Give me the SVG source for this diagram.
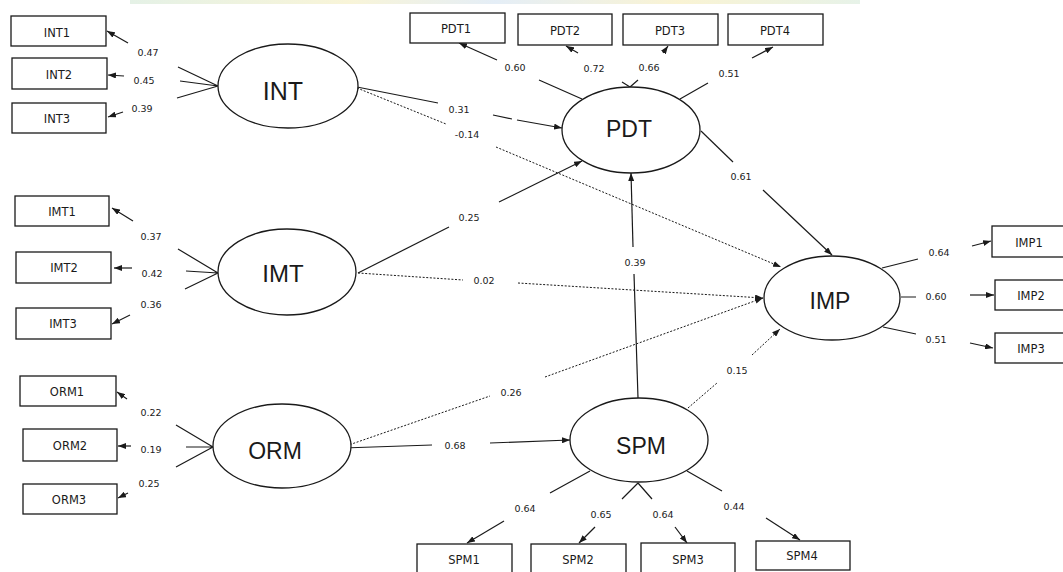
<svg xmlns="http://www.w3.org/2000/svg" width="1063" height="572" viewBox="0 0 1063 572">
  <defs>
    <marker id="arrow" viewBox="0 0 8 6" refX="8" refY="3" markerWidth="8" markerHeight="6" markerUnits="userSpaceOnUse" orient="auto">
      <path d="M0,0 L8,3 L0,6 z" fill="#1a1a1a"/>
    </marker>
    <linearGradient id="band" x1="0" y1="0" x2="1" y2="0">
      <stop offset="0" stop-color="#cfe6d2"/>
      <stop offset="0.3" stop-color="#f3ecb8"/>
      <stop offset="0.5" stop-color="#cfe0f0"/>
      <stop offset="0.75" stop-color="#f5eab0"/>
      <stop offset="1" stop-color="#d3e8d6"/>
    </linearGradient>
  </defs>
  <style>
    .box { fill: #fff; stroke: #1a1a1a; stroke-width: 1.3; }
    .lv { fill: #fff; stroke: #1a1a1a; stroke-width: 1.3; }
    .ln { fill: none; stroke: #1a1a1a; stroke-width: 1.2; }
    .dot { fill: none; stroke: #1a1a1a; stroke-width: 1; stroke-dasharray: 2 1.6; }
    .arr { marker-end: url(#arrow); }
    .bt { font-family: "DejaVu Sans", Verdana, sans-serif; font-size: 11.5px; fill: #1a1a1a; text-anchor: middle; }
    .big { font-family: "Liberation Sans", Arial, sans-serif; font-size: 23px; fill: #1a1a1a; text-anchor: middle; }
    .num { font-family: "DejaVu Sans", Verdana, sans-serif; font-size: 9.5px; fill: #1a1a1a; text-anchor: middle; }
  </style>

  <rect width="1063" height="572" fill="#fff"/>
  <rect x="130" y="0" width="730" height="4" fill="url(#band)" opacity="0.55"/>

  <!-- connectors -->
  <g id="connectors">
    <!-- INT indicators -->
    <path class="ln" d="M178,67 L218,86 M180,81 L218,86 M177,98 L218,86"/>
    <line class="ln arr" x1="128" y1="43" x2="107" y2="31"/>
    <line class="ln arr" x1="124" y1="76" x2="108" y2="75"/>
    <line class="ln arr" x1="123" y1="112" x2="108" y2="117"/>
    <!-- IMT indicators -->
    <path class="ln" d="M178,249 L218,273 M186,271 L218,273 M185,289 L218,273"/>
    <line class="ln arr" x1="133" y1="221" x2="112" y2="208"/>
    <line class="ln arr" x1="132" y1="268" x2="114" y2="268"/>
    <line class="ln arr" x1="130" y1="315" x2="112" y2="324"/>
    <!-- ORM indicators -->
    <path class="ln" d="M176,425 L213,447 M186,447 L213,447 M176,467 L213,447"/>
    <line class="ln arr" x1="127" y1="399" x2="117" y2="392"/>
    <line class="ln arr" x1="131" y1="446" x2="118" y2="446"/>
    <line class="ln arr" x1="128" y1="493" x2="118" y2="498"/>
    <!-- PDT indicators -->
    <path class="ln" d="M582,99 L539,80 M630,87 L622,82 M630,87 L638,80 M680,99 L708,83"/>
    <line class="ln arr" x1="497" y1="60" x2="459" y2="43"/>
    <line class="ln arr" x1="578" y1="53" x2="566" y2="46"/>
    <line class="ln arr" x1="663" y1="53" x2="668" y2="46"/>
    <line class="ln arr" x1="752" y1="58" x2="773" y2="47"/>
    <!-- IMP indicators -->
    <path class="ln" d="M882,268 L918,259 M901,297 L916,297 M883,327 L916,334"/>
    <line class="ln arr" x1="972" y1="246" x2="991" y2="241"/>
    <line class="ln arr" x1="970" y1="295" x2="994" y2="295"/>
    <line class="ln arr" x1="970" y1="343" x2="993" y2="348"/>
    <!-- SPM indicators -->
    <path class="ln" d="M590,471 L550,493 M638,483 L622,499 M638,483 L652,499 M687,471 L722,491"/>
    <line class="ln arr" x1="504" y1="521" x2="467" y2="543"/>
    <line class="ln arr" x1="595" y1="527" x2="579" y2="543"/>
    <line class="ln arr" x1="675" y1="527" x2="687" y2="543"/>
    <line class="ln arr" x1="766" y1="518" x2="800" y2="540"/>

    <!-- structural paths -->
    <path class="ln" d="M357,87 L438,103 M493,115 L512,119"/>
    <line class="ln arr" x1="517" y1="120" x2="562" y2="128"/>
    <path class="dot" d="M357,88 L446,124"/>
    <line class="dot arr" x1="496" y1="147" x2="781" y2="267"/>
    <path class="ln" d="M701,131 L733,162"/>
    <line class="ln arr" x1="763" y1="190" x2="832" y2="255"/>
    <path class="ln" d="M358,273 L449,227"/>
    <line class="ln arr" x1="499" y1="202" x2="582" y2="161"/>
    <path class="dot" d="M358,273 L463,280"/>
    <line class="dot arr" x1="518" y1="283" x2="763" y2="298"/>
    <path class="dot" d="M343,447 L490,396"/>
    <line class="dot arr" x1="545" y1="377" x2="763" y2="298"/>
    <path class="ln" d="M343,448 L432,445"/>
    <line class="ln arr" x1="490" y1="443" x2="570" y2="440"/>
    <path class="ln" d="M638,398 L634,274"/>
    <line class="ln arr" x1="633" y1="247" x2="631" y2="173"/>
    <path class="dot" d="M688,408 L717,383"/>
    <line class="dot arr" x1="752" y1="355" x2="780" y2="329"/>

    <!-- coefficients -->
    <text class="num" x="148" y="55.5">0.47</text>
    <text class="num" x="144" y="83.5">0.45</text>
    <text class="num" x="142" y="111.5">0.39</text>
    <text class="num" x="151" y="239.5">0.37</text>
    <text class="num" x="152" y="276.5">0.42</text>
    <text class="num" x="151" y="307.5">0.36</text>
    <text class="num" x="151" y="415.5">0.22</text>
    <text class="num" x="151" y="452.5">0.19</text>
    <text class="num" x="149" y="486.5">0.25</text>
    <text class="num" x="515" y="70.5">0.60</text>
    <text class="num" x="594" y="71.5">0.72</text>
    <text class="num" x="649" y="70.5">0.66</text>
    <text class="num" x="729" y="76.5">0.51</text>
    <text class="num" x="459" y="112.5">0.31</text>
    <text class="num" x="467" y="137.5">-0.14</text>
    <text class="num" x="469" y="220.5">0.25</text>
    <text class="num" x="484" y="283.5">0.02</text>
    <text class="num" x="511" y="395.5">0.26</text>
    <text class="num" x="455" y="448.5">0.68</text>
    <text class="num" x="635" y="265.5">0.39</text>
    <text class="num" x="741" y="179.5">0.61</text>
    <text class="num" x="737" y="373.5">0.15</text>
    <text class="num" x="939" y="255.5">0.64</text>
    <text class="num" x="936" y="299.5">0.60</text>
    <text class="num" x="936" y="342.5">0.51</text>
    <text class="num" x="525" y="511.5">0.64</text>
    <text class="num" x="601" y="517.5">0.65</text>
    <text class="num" x="663" y="517.5">0.64</text>
    <text class="num" x="734" y="509.5">0.44</text>
  </g>

  <!-- latent variables -->
  <g id="INT"><ellipse class="lv" cx="288" cy="86" rx="70" ry="42"/><text class="big" x="283" y="99.5" style="font-size:25px">INT</text></g>
  <g id="IMT"><ellipse class="lv" cx="287" cy="272" rx="69" ry="43"/><text class="big" x="283" y="281.5" style="font-size:24px">IMT</text></g>
  <g id="ORM"><ellipse class="lv" cx="282" cy="446" rx="69" ry="42"/><text class="big" x="275" y="459">ORM</text></g>
  <g id="PDT"><ellipse class="lv" cx="631" cy="130" rx="69" ry="43"/><text class="big" x="629" y="137">PDT</text></g>
  <g id="IMP"><ellipse class="lv" cx="832" cy="298" rx="68" ry="42"/><text class="big" x="830" y="309">IMP</text></g>
  <g id="SPM"><ellipse class="lv" cx="639" cy="440" rx="69" ry="42"/><text class="big" x="641" y="454">SPM</text></g>

  <!-- indicators -->
  <g id="INT1"><rect class="box" x="11" y="16" width="95" height="30"/><text class="bt" x="57" y="37">INT1</text></g>
  <g id="INT2"><rect class="box" x="12" y="58" width="95" height="31"/><text class="bt" x="59" y="79">INT2</text></g>
  <g id="INT3"><rect class="box" x="12" y="103" width="94" height="30"/><text class="bt" x="57" y="123">INT3</text></g>
  <g id="IMT1"><rect class="box" x="15" y="196" width="94" height="30"/><text class="bt" x="62" y="216">IMT1</text></g>
  <g id="IMT2"><rect class="box" x="16" y="252" width="95" height="31"/><text class="bt" x="64" y="272">IMT2</text></g>
  <g id="IMT3"><rect class="box" x="16" y="308" width="95" height="31"/><text class="bt" x="63" y="328">IMT3</text></g>
  <g id="ORM1"><rect class="box" x="20" y="376" width="96" height="30"/><text class="bt" x="67" y="396">ORM1</text></g>
  <g id="ORM2"><rect class="box" x="23" y="429" width="94" height="32"/><text class="bt" x="70" y="450">ORM2</text></g>
  <g id="ORM3"><rect class="box" x="23" y="484" width="94" height="30"/><text class="bt" x="69" y="504">ORM3</text></g>
  <g id="PDT1"><rect class="box" x="410" y="13" width="95" height="30"/><text class="bt" x="456" y="33">PDT1</text></g>
  <g id="PDT2"><rect class="box" x="518" y="14" width="94" height="31"/><text class="bt" x="565" y="35">PDT2</text></g>
  <g id="PDT3"><rect class="box" x="623" y="14" width="95" height="31"/><text class="bt" x="670" y="35">PDT3</text></g>
  <g id="PDT4"><rect class="box" x="728" y="14" width="95" height="31"/><text class="bt" x="775" y="35">PDT4</text></g>
  <g id="IMP1"><rect class="box" x="992" y="226" width="80" height="31"/><text class="bt" x="1029" y="247">IMP1</text></g>
  <g id="IMP2"><rect class="box" x="995" y="280" width="80" height="30"/><text class="bt" x="1031" y="300">IMP2</text></g>
  <g id="IMP3"><rect class="box" x="995" y="333" width="80" height="30"/><text class="bt" x="1031" y="353">IMP3</text></g>
  <g id="SPM1"><rect class="box" x="417" y="544" width="95" height="32"/><text class="bt" x="464" y="564">SPM1</text></g>
  <g id="SPM2"><rect class="box" x="531" y="544" width="95" height="32"/><text class="bt" x="578" y="564">SPM2</text></g>
  <g id="SPM3"><rect class="box" x="641" y="543" width="94" height="33"/><text class="bt" x="688" y="564">SPM3</text></g>
  <g id="SPM4"><rect class="box" x="756" y="541" width="94" height="29"/><text class="bt" x="802" y="560">SPM4</text></g>
</svg>
